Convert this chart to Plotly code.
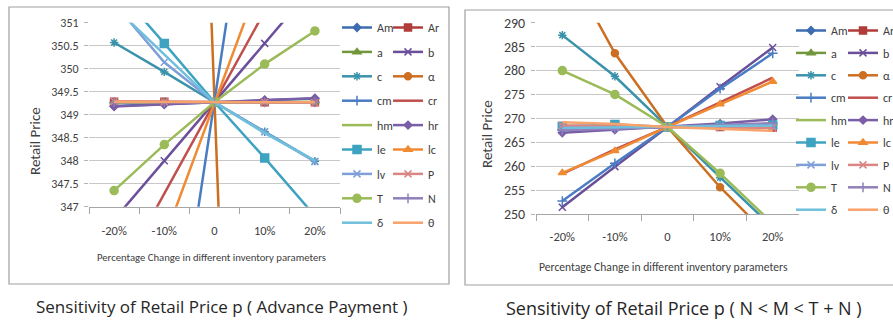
import plotly.graph_objects as go

# ---------------- data ----------------
categories = ["-20%", "-10%", "0", "10%", "20%"]
series_names = ["Am", "Ar", "a", "b", "c", "α", "cm", "cr", "hm",
                "hr", "le", "lc", "lv", "P", "T", "N", "δ", "θ"]

# Panel 1: Sensitivity of Retail Price p (Advance Payment)
adv_Am = [349.19, 349.23, 349.27, 349.31, 349.35]
adv_Ar = [349.28, 349.28, 349.27, 349.27, 349.27]
adv_a = [349.27, 349.27, 349.27, 349.27, 349.27]
adv_b = [346.72, 348.00, 349.27, 350.55, 351.83]
adv_c = [350.57, 349.93, 349.27, 348.63, 347.99]
adv_alpha = [406.8, 378.0, 349.27, 320.5, 291.8]
adv_cm = [334.9, 342.1, 349.27, 356.5, 363.7]
adv_cr = [345.30, 347.30, 349.27, 351.25, 353.20]
adv_hm = [349.26, 349.27, 349.27, 349.27, 349.28]
adv_hr = [349.18, 349.22, 349.27, 349.32, 349.36]
adv_le = [351.80, 350.55, 349.27, 348.06, 346.80]
adv_lc = [343.35, 346.30, 349.27, 352.20, 355.20]
adv_lv = [351.42, 350.14, 349.27, 348.63, 347.98]
adv_P = [349.29, 349.28, 349.27, 349.27, 349.26]
adv_T = [347.35, 348.35, 349.27, 350.10, 350.82]
adv_N = [349.27, 349.27, 349.27, 349.27, 349.27]
adv_delta = [351.35, 350.30, 349.27, 348.60, 348.00]
adv_theta = [349.28, 349.28, 349.27, 349.27, 349.27]

# Panel 2: Sensitivity of Retail Price p (N < M < T + N)
nmt_Am = [267.6, 267.9, 268.2, 268.5, 268.8]
nmt_Ar = [268.4, 268.3, 268.2, 268.2, 268.1]
nmt_a = [268.1, 268.2, 268.2, 268.2, 268.3]
nmt_b = [251.4, 259.9, 268.2, 276.6, 284.8]
nmt_c = [287.4, 278.8, 268.2, 257.6, 247.2]
nmt_alpha = [303.6, 283.6, 268.2, 255.6, 244.6]
nmt_cm = [252.7, 260.6, 268.2, 276.2, 283.6]
nmt_cr = [258.4, 263.5, 268.2, 273.3, 278.5]
nmt_hm = [268.3, 268.2, 268.2, 268.2, 268.1]
nmt_hr = [267.0, 267.6, 268.2, 268.9, 269.8]
nmt_le = [268.3, 268.7, 268.2, 268.5, 268.6]
nmt_lc = [258.6, 263.2, 268.2, 273.0, 277.7]
nmt_lv = [268.0, 268.1, 268.2, 268.3, 268.4]
nmt_P = [268.5, 268.4, 268.2, 268.1, 268.0]
nmt_T = [280.0, 275.0, 268.2, 258.5, 248.0]
nmt_N = [267.5, 267.8, 268.2, 268.6, 269.0]
nmt_delta = [268.0, 268.1, 268.2, 268.3, 268.5]
nmt_theta = [269.2, 268.8, 268.2, 267.8, 267.4]

adv_values = [adv_Am, adv_Ar, adv_a, adv_b, adv_c, adv_alpha, adv_cm, adv_cr, adv_hm,
              adv_hr, adv_le, adv_lc, adv_lv, adv_P, adv_T, adv_N, adv_delta, adv_theta]
nmt_values = [nmt_Am, nmt_Ar, nmt_a, nmt_b, nmt_c, nmt_alpha, nmt_cm, nmt_cr, nmt_hm,
              nmt_hr, nmt_le, nmt_lc, nmt_lv, nmt_P, nmt_T, nmt_N, nmt_delta, nmt_theta]

adv_yticks = [347, 347.5, 348, 348.5, 349, 349.5, 350, 350.5, 351]
nmt_yticks = [250, 255, 260, 265, 270, 275, 280, 285, 290]

# ---------------- styles ----------------
colors = ["#3d6db0", "#b03c3a", "#72973a", "#6a4f9a", "#3a93ab", "#cc6f22",
          "#4a7cc4", "#c0504d", "#9bbb59", "#7a5ea6", "#3ea3c0", "#f08a33",
          "#7f9fd8", "#d98684", "#9bbb59", "#9080bb", "#6fbfdc", "#f7a36b"]
symbols = ["diamond", "square", "triangle-up", "x-thin-open", "asterisk-open", "circle",
           "cross-thin-open", None, None, "diamond", "square", "triangle-up",
           "x-thin-open", "x-thin-open", "circle", "cross-thin-open", None, None]
msizes = [6, 7, 7, 7, 7, 7, 7, 0, 0, 6, 8, 7, 7, 7, 8, 7, 0, 0]

FONT = "Carlito, Calibri, 'Open Sans', sans-serif"
CAP_FONT = "'Open Sans', 'Segoe UI', sans-serif"
W, H = 893, 320


def px(x):
    return x / W


def py(y):
    return 1 - y / H


fig = go.Figure()

for panel, values in enumerate([adv_values, nmt_values]):
    xa = "x" if panel == 0 else "x2"
    ya = "y" if panel == 0 else "y2"
    for i, (name, vals) in enumerate(zip(series_names, values)):
        leg_idx = panel * 2 + (i % 2) + 1
        legend = "legend" if leg_idx == 1 else "legend%d" % leg_idx
        sym = symbols[i]
        mode = "lines+markers" if sym else "lines"
        marker = dict(symbol=sym, size=msizes[i], color=colors[i],
                      line=dict(color=colors[i], width=1.5)) if sym else None
        fig.add_trace(go.Scatter(
            x=categories, y=vals, name=name, mode=mode,
            line=dict(color=colors[i], width=2.5),
            marker=marker, xaxis=xa, yaxis=ya, legend=legend,
            legendgroup="g%d_%d" % (panel, i), cliponaxis=True,
        ))

fig.update_layout(
    width=W, height=H,
    margin=dict(l=0, r=0, t=0, b=0, pad=0, autoexpand=False),
    paper_bgcolor="white", plot_bgcolor="white",
    font=dict(family=FONT, color="#404040"),
    xaxis=dict(domain=[px(89), px(340)], anchor="y", type="category",
               range=[-0.5, 4.5], tickson="boundaries", ticks="outside",
               ticklen=6, tickcolor="#a6a6a6", showline=True, linecolor="#a6a6a6",
               ticklabelstandoff=12, tickfont=dict(family=FONT, size=12.5, color="#404040"),
               showgrid=False, zeroline=False, automargin=False),
    yaxis=dict(domain=[py(206.7), py(22.7)], anchor="x", range=[347, 351],
               tickvals=adv_yticks, ticktext=[("%g" % v) for v in adv_yticks],
               ticks="outside", ticklen=4, tickcolor="#b5b5b5", ticklabelstandoff=3,
               showline=False, zeroline=False, automargin=False,
               tickfont=dict(family=FONT, size=12, color="#404040"),
               showgrid=True, gridcolor="#c8c8c8", gridwidth=1),
    xaxis2=dict(domain=[px(536), px(799)], anchor="y2", type="category",
                range=[-0.5, 4.5], tickson="boundaries", ticks="outside",
                ticklen=6, tickcolor="#a6a6a6", showline=True, linecolor="#a6a6a6",
                ticklabelstandoff=11, tickfont=dict(family=FONT, size=12.5, color="#404040"),
                showgrid=False, zeroline=False, automargin=False),
    yaxis2=dict(domain=[py(214), py(22.7)], anchor="x2", range=[250, 290],
                tickvals=nmt_yticks, ticktext=[str(v) for v in nmt_yticks],
                ticks="outside", ticklen=4, tickcolor="#b5b5b5", ticklabelstandoff=3,
                showline=False, zeroline=False, automargin=False,
                tickfont=dict(family=FONT, size=14, color="#404040"),
                showgrid=True, gridcolor="#c8c8c8", gridwidth=1),
)

leg_common = dict(xanchor="left", yanchor="top", bgcolor="rgba(0,0,0,0)",
                  font=dict(family=FONT, size=12, color="#404040"),
                  itemwidth=30, orientation="v")
fig.update_layout(
    legend=dict(x=px(337), y=py(13), tracegroupgap=5.4, **leg_common),
    legend2=dict(x=px(388), y=py(13), tracegroupgap=5.4, **leg_common),
    legend3=dict(x=px(791), y=py(16), tracegroupgap=3.4, **leg_common),
    legend4=dict(x=px(843), y=py(16), tracegroupgap=3.4, **leg_common),
)

# chart frames
fig.add_shape(type="rect", xref="paper", yref="paper",
              x0=px(9), x1=px(449), y0=py(284), y1=py(7),
              line=dict(color="#a0a0a0", width=1.2))
fig.add_shape(type="rect", xref="paper", yref="paper",
              x0=px(465), x1=px(905), y0=py(285), y1=py(10),
              line=dict(color="#a0a0a0", width=1.2))

ann = [
    dict(text="Percentage Change in different inventory parameters", x=px(211), y=py(257),
         font=dict(size=10.7, color="#404040", family=FONT)),
    dict(text="Percentage Change in different inventory parameters", x=px(663), y=py(267),
         font=dict(size=11.6, color="#404040", family=FONT)),
    dict(text="Retail Price", x=px(35), y=py(141), textangle=-90,
         font=dict(size=15, color="#404040", family=FONT)),
    dict(text="Retail Price", x=px(487), y=py(134), textangle=-90,
         font=dict(size=15, color="#404040", family=FONT)),
    dict(text="Sensitivity of Retail Price p ( Advance Payment )", x=px(222), y=py(306),
         font=dict(size=17, color="#262626", family=CAP_FONT)),
    dict(text="Sensitivity of Retail Price p ( N &lt; M &lt; T + N )", x=px(684), y=py(308),
         font=dict(size=18, color="#262626", family=CAP_FONT)),
]
for a in ann:
    a.update(xref="paper", yref="paper", showarrow=False, xanchor="center", yanchor="middle")
    fig.add_annotation(**a)

fig.write_html("out.html")
